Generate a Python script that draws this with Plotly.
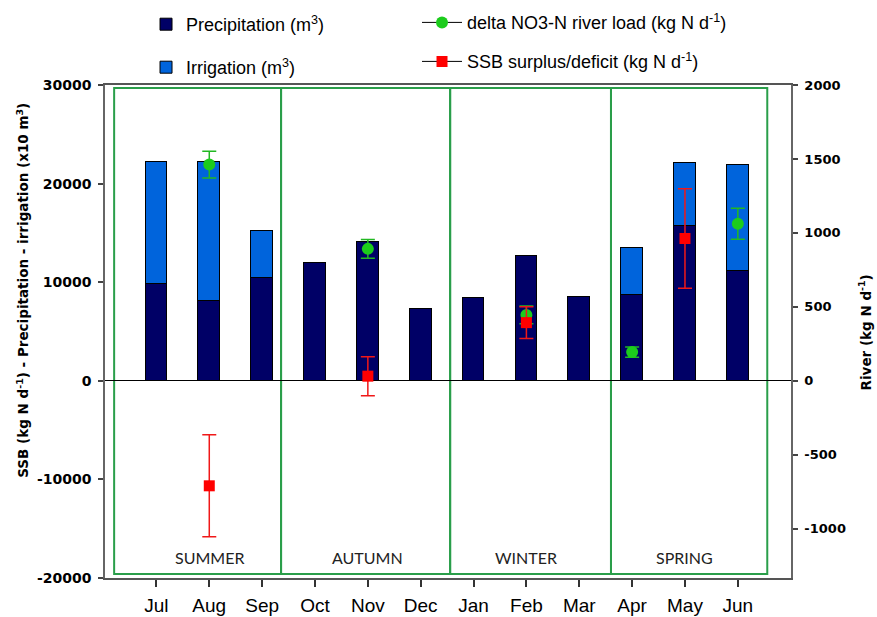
import plotly.graph_objects as go

# ---------------- data ----------------
months = ['Jul', 'Aug', 'Sep', 'Oct', 'Nov', 'Dec', 'Jan', 'Feb', 'Mar', 'Apr', 'May', 'Jun']
precipitation = [9770, 8140, 10400, 11930, 14060, 7330, 8350, 12640, 8480, 8750, 15680, 11090]
irrigation = [12470, 14030, 4810, None, None, None, None, None, None, 4740, 6390, 10820]
delta_no3 = [None, 1462, None, None, 892, None, None, 445, None, 194, None, 1062]
delta_no3_err = [0, 90, 0, 0, 63, 0, 0, 60, 0, 34, 0, 105]
ssb = [None, -10650, None, None, 470, None, None, 5900, None, None, 14430, None]
ssb_err = [0, 5170, 0, 0, 1980, 0, 0, 1600, 0, 0, 5040, 0]
seasons = ['SUMMER', 'AUTUMN', 'WINTER', 'SPRING']
season_label_month = ['Aug', 'Nov', 'Feb', 'May']
left_ticks = [-20000, -10000, 0, 10000, 20000, 30000]
left_ticktext = ['-20000', '-10000', '0', '10000', '20000', '30000']
right_ticks = [-1000, -500, 0, 500, 1000, 1500, 2000]
right_ticktext = ['-1000', '-500', '0', '500', '1000', '1500', '2000']

# ---------------- layout constants ----------------
season_edges = [-0.80, 2.358, 5.557, 8.60, 11.557]
box_bottom, box_top = -19600, 29700
LEFT_RANGE = [-20000, 30000]
RIGHT_RANGE = [-4000 / 3, 2000]

ARIAL = 'Liberation Sans, Arial, sans-serif'
WIDE = 'DejaVu Sans, Verdana, sans-serif'
NAVY = '#000066'
BLUE = '#0064dc'
GREEN_BOX = '#2a9e4a'
GREEN = '#1ccc1c'
RED = '#ff0000'

fig = go.Figure()

fig.add_trace(go.Bar(
    x=months, y=precipitation, name='Precipitation (m<sup>3</sup>)',
    marker=dict(color=NAVY, line=dict(color='black', width=1)),
    width=0.41, yaxis='y', legend='legend'))
fig.add_trace(go.Bar(
    x=months, y=irrigation, name='Irrigation (m<sup>3</sup>)',
    marker=dict(color=BLUE, line=dict(color='black', width=1)),
    width=0.41, yaxis='y', legend='legend2'))

fig.add_trace(go.Scatter(
    x=months, y=delta_no3, name='delta NO3-N river load (kg N d<sup>-1</sup>)',
    mode='lines+markers', connectgaps=False,
    line=dict(color='black', width=1),
    marker=dict(color=GREEN, size=12, symbol='circle'),
    error_y=dict(type='data', array=delta_no3_err, visible=True,
                 color='#22b822', thickness=1.5, width=7),
    yaxis='y2', legend='legend3'))

fig.add_trace(go.Scatter(
    x=months, y=ssb, name='SSB surplus/deficit (kg N d<sup>-1</sup>)',
    mode='lines+markers', connectgaps=False,
    line=dict(color='black', width=1),
    marker=dict(color=RED, size=11, symbol='square'),
    error_y=dict(type='data', array=ssb_err, visible=True,
                 color='#f01818', thickness=1.5, width=7),
    yaxis='y3', legend='legend4'))

# season boxes
for i in range(len(seasons)):
    fig.add_shape(type='rect', xref='x', yref='y',
                  x0=season_edges[i], x1=season_edges[i + 1],
                  y0=box_bottom, y1=box_top,
                  line=dict(color=GREEN_BOX, width=2), layer='below')
    fig.add_annotation(x=season_label_month[i], y=-17900, xref='x', yref='y',
                       text=seasons[i], showarrow=False,
                       font=dict(family='Lato, sans-serif', size=16, color='#222'))

# axis titles
fig.add_annotation(xref='paper', yref='paper', x=-0.12, y=0.584,
                   text='SSB (kg N d<sup>-1</sup>) - Precipitation - irrigation (x10 m<sup>3</sup>)',
                   textangle=-90, showarrow=False, xanchor='center', yanchor='middle',
                   font=dict(family=WIDE, size=13.5, color='black', weight='bold'))
fig.add_annotation(xref='paper', yref='paper', x=1.1085, y=0.499,
                   text='River (kg N d<sup>-1</sup>)',
                   textangle=-90, showarrow=False, xanchor='center', yanchor='middle',
                   font=dict(family=WIDE, size=13.5, color='black', weight='bold'))

legend_common = dict(bgcolor='rgba(0,0,0,0)', borderwidth=0, xanchor='left',
                     yanchor='middle', xref='container', yref='container',
                     font=dict(family=ARIAL, size=18, color='black'))

fig.update_layout(
    width=877, height=617,
    margin=dict(l=105, r=86, t=85, b=39, autoexpand=False),
    paper_bgcolor='white', plot_bgcolor='white',
    barmode='stack', bargap=0,
    showlegend=True,
    legend=dict(x=0.1665, y=0.9603, itemwidth=30, **legend_common),
    legend2=dict(x=0.1665, y=0.8906, itemwidth=30, **legend_common),
    legend3=dict(x=0.4755, y=0.9632, itemwidth=40, **legend_common),
    legend4=dict(x=0.4755, y=0.9000, itemwidth=40, **legend_common),
    xaxis=dict(type='category', categoryorder='array', categoryarray=months,
               range=[-0.973, 12.006], showgrid=False, zeroline=False,
               showline=True, linecolor='#555', linewidth=1.5, mirror=True,
               ticks='outside', ticklen=7, tickwidth=1.5, tickcolor='#333',
               tickfont=dict(family=ARIAL, size=19, color='black'),
               ticklabelstandoff=2),
    yaxis=dict(range=LEFT_RANGE, tickmode='array', tickvals=left_ticks,
               ticktext=left_ticktext, showgrid=False,
               zeroline=True, zerolinecolor='black', zerolinewidth=1,
               showline=True, linecolor='#666', linewidth=1.5,
               ticks='outside', ticklen=5, tickwidth=1.5, tickcolor='#444',
               tickfont=dict(family=WIDE, size=14, color='black', weight='bold'),
               ticklabelstandoff=4),
    yaxis2=dict(range=RIGHT_RANGE, tickmode='array', tickvals=right_ticks,
                ticktext=right_ticktext, overlaying='y', side='right',
                showgrid=False, zeroline=False,
                showline=True, linecolor='#666', linewidth=1.5,
                ticks='outside', ticklen=5, tickwidth=1.5, tickcolor='#444',
                tickfont=dict(family=WIDE, size=13, color='black', weight='bold'),
                ticklabelstandoff=4),
    yaxis3=dict(range=LEFT_RANGE, overlaying='y', visible=False),
)

fig.write_html('out.html', config={'displayModeBar': False},
               post_script="document.body.style.margin='0';document.body.style.padding='0';")
